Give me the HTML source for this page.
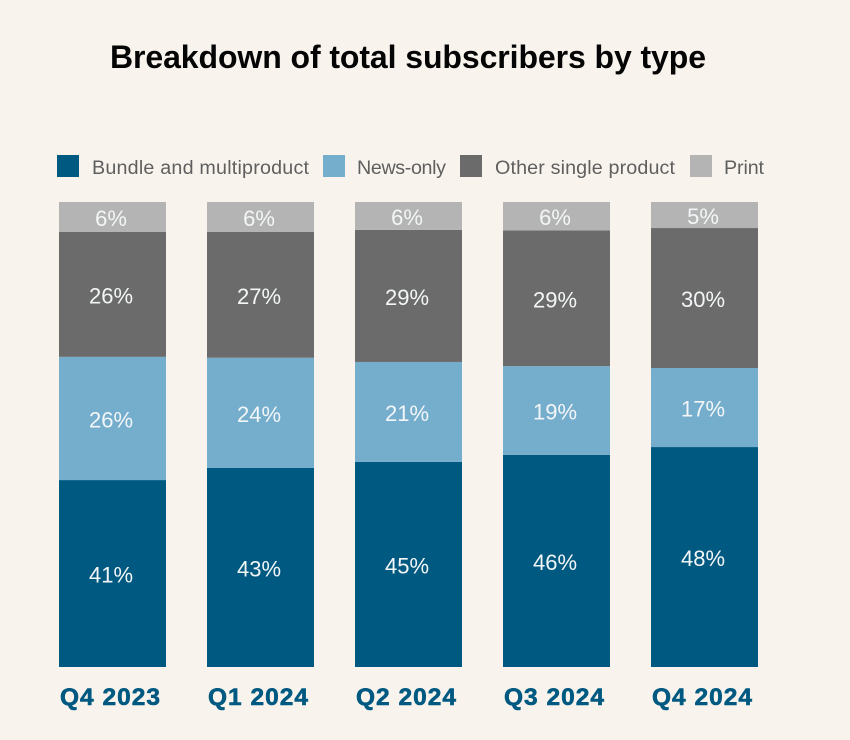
<!DOCTYPE html>
<html lang="en">
<head>
<meta charset="utf-8">
<title>Breakdown of total subscribers by type</title>
<style>
html,body{margin:0;padding:0;background:#f8f3ed;width:850px;height:740px;overflow:hidden}
svg{display:block;font-family:"Liberation Sans",Arial,sans-serif}
</style>
</head>
<body>
<svg id="chart" xmlns="http://www.w3.org/2000/svg" width="850" height="740" viewBox="0 0 850 740">
  <rect x="0" y="0" width="850" height="740" fill="#f8f3ed"/>
  <text x="110" y="68" font-size="32" font-weight="700" fill="#050505" textLength="596" lengthAdjust="spacing">Breakdown of total subscribers by type</text>
  <g id="legend"></g>
  <g id="bars"></g>
  <g id="xaxis"></g>
</svg>
<script>
const categories = ["Q4 2023", "Q1 2024", "Q2 2024", "Q3 2024", "Q4 2024"];
const seriesNames = ["Bundle and multiproduct", "News-only", "Other single product", "Print"];
const bundleValues = [40.2, 42.8, 44.1, 45.6, 47.3];
const newsValues = [26.5, 23.7, 21.5, 19.1, 17.0];
const otherValues = [26.9, 27.1, 28.4, 29.2, 30.1];
const printValues = [6.4, 6.4, 6.0, 6.1, 5.6];
const bundleLabels = ["41%", "43%", "45%", "46%", "48%"];
const newsLabels = ["26%", "24%", "21%", "19%", "17%"];
const otherLabels = ["26%", "27%", "29%", "29%", "30%"];
const printLabels = ["6%", "6%", "6%", "6%", "5%"];

const allValues = [bundleValues, newsValues, otherValues, printValues];
const allLabels = [bundleLabels, newsLabels, otherLabels, printLabels];
const colors = ["#005981", "#75adcd", "#6b6b6b", "#b4b4b4"];
const NS = "http://www.w3.org/2000/svg";

const plotBottom = 667;
const plotHeight = 465;
const firstBarLeft = 59;
const barStep = 148;
const barWidth = 107;

function yScale(v) { return plotBottom - v / 100 * plotHeight; }
function xScale(i) { return firstBarLeft + i * barStep; }
function slug(s) { return s.toLowerCase().replace(/[^a-z0-9]+/g, "-"); }

const barsGroup = document.getElementById("bars");
const axisGroup = document.getElementById("xaxis");
const legendGroup = document.getElementById("legend");

categories.forEach(function (cat, i) {
  let cumulative = 0;
  allValues.forEach(function (vals, s) {
    const y0 = yScale(cumulative);
    const y1 = yScale(cumulative + vals[i]);
    cumulative += vals[i];

    const r = document.createElementNS(NS, "rect");
    
    
    r.setAttribute("x", xScale(i));
    r.setAttribute("y", y1);
    r.setAttribute("width", barWidth);
    r.setAttribute("height", y0 - y1);
    r.setAttribute("fill", colors[s]);
    barsGroup.appendChild(r);

    const t = document.createElementNS(NS, "text");
    
    
    t.setAttribute("x", xScale(i) + barWidth / 2 - 1.5);
    t.setAttribute("y", (y0 + y1) / 2 + 9);
    t.setAttribute("text-anchor", "middle");
    t.setAttribute("font-size", "22");
    t.setAttribute("fill", "#f3f6f7");
    t.textContent = allLabels[s][i];
    barsGroup.appendChild(t);
  });

  const tick = document.createElementNS(NS, "text");
  
  
  tick.setAttribute("x", xScale(i) + barWidth / 2 - 2.5);
  tick.setAttribute("y", 705);
  tick.setAttribute("text-anchor", "middle");
  tick.setAttribute("font-size", "24.5");
  tick.setAttribute("font-weight", "700");
  tick.setAttribute("fill", "#005981");
  tick.setAttribute("stroke", "#005981");
  tick.setAttribute("stroke-width", "0.6");
  tick.setAttribute("textLength", "100");
  tick.setAttribute("lengthAdjust", "spacing");
  tick.textContent = cat;
  axisGroup.appendChild(tick);
});

const legendSwatchX = [57, 323, 460, 690];
const legendTextX = [92, 357, 495, 724];
const legendTextW = [217, 89, 180, 40];

seriesNames.forEach(function (name, s) {
  const sw = document.createElementNS(NS, "rect");
  
  
  sw.setAttribute("x", legendSwatchX[s]);
  sw.setAttribute("y", 155);
  sw.setAttribute("width", 22);
  sw.setAttribute("height", 22);
  sw.setAttribute("fill", colors[s]);
  legendGroup.appendChild(sw);

  const lt = document.createElementNS(NS, "text");
  
  
  lt.setAttribute("x", legendTextX[s]);
  lt.setAttribute("y", 174);
  lt.setAttribute("font-size", "19.7");
  lt.setAttribute("fill", "#5f5f5f");
  lt.setAttribute("textLength", legendTextW[s]);
  lt.setAttribute("lengthAdjust", "spacing");
  lt.textContent = name;
  legendGroup.appendChild(lt);
});
</script>
</body>
</html>
